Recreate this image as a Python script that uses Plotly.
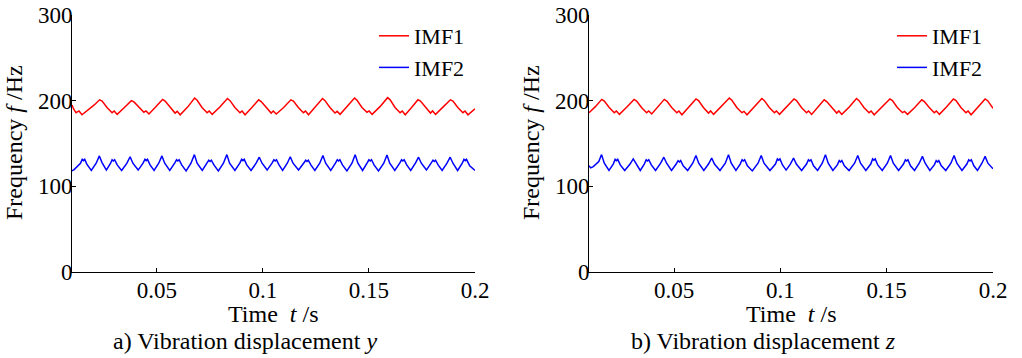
import plotly.graph_objects as go

# ---------------- data ----------------
# a) vibration displacement y
y_imf1_t = [0.0100, 0.0108, 0.0119, 0.0133, 0.0147, 0.0175, 0.0205, 0.0230,
            0.0242, 0.0265, 0.0289, 0.0299, 0.0313, 0.0347, 0.0380,
            0.0392, 0.0415, 0.0439, 0.0449, 0.0463, 0.0494, 0.0527,
            0.0539, 0.0562, 0.0586, 0.0596, 0.0610, 0.0645, 0.0678,
            0.0690, 0.0713, 0.0737, 0.0747, 0.0761, 0.0797, 0.0833,
            0.0845, 0.0868, 0.0892, 0.0902, 0.0916, 0.0948, 0.0980,
            0.0992, 0.1015, 0.1039, 0.1049, 0.1063, 0.1098, 0.1132,
            0.1144, 0.1167, 0.1191, 0.1201, 0.1215, 0.1248, 0.1281,
            0.1293, 0.1316, 0.1340, 0.1350, 0.1364, 0.1398, 0.1432,
            0.1444, 0.1467, 0.1491, 0.1501, 0.1515, 0.1552, 0.1588,
            0.1600, 0.1623, 0.1647, 0.1657, 0.1671, 0.1701, 0.1731,
            0.1743, 0.1766, 0.1790, 0.1800, 0.1814, 0.1849, 0.1884,
            0.1896, 0.1919, 0.1943, 0.1953, 0.1967, 0.2000]
y_imf1_f = [195, 190, 186, 188, 183.5, 189, 195, 201,
            199.5, 192, 186, 188, 184, 192, 200,
            198.5, 192, 186.5, 188, 184.5, 192.5, 201.5,
            199.5, 192, 185.5, 187.5, 183.5, 192.5, 203,
            200.5, 192, 186, 188, 184, 192.5, 202.5,
            200, 192, 186, 188, 183.5, 192, 201,
            199, 192, 185.5, 188, 184.5, 192, 201,
            199.5, 192, 186, 188, 183.5, 192.5, 202.5,
            200, 192, 185.5, 187.5, 184, 193, 203,
            200.5, 192, 186.5, 188, 184, 193, 203.5,
            201, 192, 186, 188, 183.5, 192, 201,
            199.5, 192, 185.5, 188, 184, 192.5, 201,
            199.5, 192, 186, 188, 183.5, 190.5]

y_imf2_t = [0.0100, 0.0110, 0.0140, 0.0148, 0.0154, 0.0160,
            0.0170, 0.0191, 0.0214, 0.0229,
            0.0241, 0.0262, 0.0282, 0.0289, 0.0295, 0.0301,
            0.0313, 0.0334, 0.0359, 0.0374,
            0.0387, 0.0412, 0.0435, 0.0444, 0.0450, 0.0456,
            0.0468, 0.0487, 0.0509, 0.0524,
            0.0537, 0.0561, 0.0584, 0.0593, 0.0599, 0.0605,
            0.0617, 0.0638, 0.0661, 0.0677,
            0.0690, 0.0714, 0.0736, 0.0745, 0.0751, 0.0757,
            0.0769, 0.0790, 0.0814, 0.0830,
            0.0843, 0.0868, 0.0891, 0.0900, 0.0906, 0.0912,
            0.0924, 0.0944, 0.0968, 0.0983,
            0.0996, 0.1020, 0.1043, 0.1052, 0.1058, 0.1064,
            0.1076, 0.1093, 0.1115, 0.1129,
            0.1142, 0.1168, 0.1192, 0.1202, 0.1208, 0.1214,
            0.1226, 0.1245, 0.1268, 0.1283,
            0.1296, 0.1320, 0.1342, 0.1351, 0.1357, 0.1363,
            0.1375, 0.1396, 0.1420, 0.1435,
            0.1448, 0.1470, 0.1491, 0.1500, 0.1506, 0.1512,
            0.1524, 0.1545, 0.1570, 0.1585,
            0.1598, 0.1622, 0.1645, 0.1654, 0.1660, 0.1666,
            0.1678, 0.1697, 0.1719, 0.1734,
            0.1747, 0.1771, 0.1793, 0.1802, 0.1808, 0.1814,
            0.1826, 0.1845, 0.1868, 0.1883,
            0.1896, 0.1918, 0.1940, 0.1948, 0.1954, 0.1960,
            0.1975, 0.2000]
y_imf2_f = [118, 119.5, 127, 131.5, 130, 131.5,
            126, 118.5, 127, 135.5,
            128, 119, 127, 131, 129.5, 131,
            125, 118.5, 127, 134.5,
            127, 119, 127, 131.5, 130, 131.5,
            125, 118.5, 127, 135.5,
            127, 118.5, 127, 131, 129.5, 131,
            125, 118, 127, 137,
            127, 118.5, 127, 130.5, 129, 130.5,
            125, 118, 127, 137,
            127, 118.5, 127, 131.5, 130, 131.5,
            125, 118.5, 127, 134,
            127, 119, 127, 131, 129.5, 131,
            125, 118.5, 127, 134.5,
            127, 119, 127, 130.5, 129, 130.5,
            125, 118.5, 127, 136,
            127, 118.5, 127, 131, 129.5, 131,
            125, 118, 127, 137,
            127, 118.5, 127, 131, 129.5, 131,
            125, 118, 127, 136.5,
            127, 118.5, 127, 131, 129.5, 131,
            125, 118.5, 127, 134,
            127, 119, 127, 130.5, 129, 130.5,
            125, 118.5, 127, 134,
            127, 118.5, 127, 131.5, 130, 131.5,
            124, 118.5]

# b) vibration displacement z
z_imf1_t = [0.0100, 0.0130, 0.0160,
            0.0172, 0.0195, 0.0219, 0.0229, 0.0243, 0.0278, 0.0312,
            0.0324, 0.0347, 0.0371, 0.0381, 0.0395, 0.0425, 0.0454,
            0.0466, 0.0489, 0.0513, 0.0523, 0.0537, 0.0570, 0.0603,
            0.0615, 0.0638, 0.0662, 0.0672, 0.0686, 0.0723, 0.0760,
            0.0772, 0.0795, 0.0819, 0.0829, 0.0843, 0.0878, 0.0913,
            0.0925, 0.0948, 0.0972, 0.0982, 0.0996, 0.1030, 0.1064,
            0.1076, 0.1099, 0.1123, 0.1133, 0.1147, 0.1177, 0.1206,
            0.1218, 0.1241, 0.1265, 0.1275, 0.1289, 0.1324, 0.1358,
            0.1370, 0.1393, 0.1417, 0.1427, 0.1441, 0.1478, 0.1515,
            0.1527, 0.1550, 0.1574, 0.1584, 0.1598, 0.1632, 0.1665,
            0.1677, 0.1700, 0.1724, 0.1734, 0.1748, 0.1781, 0.1814,
            0.1826, 0.1849, 0.1873, 0.1883, 0.1897, 0.1930, 0.1963,
            0.1975, 0.2000]
z_imf1_f = [186, 193, 201.5,
            199.5, 192, 186, 188, 184, 192.5, 201.5,
            199.5, 192, 186, 188, 184.5, 193, 201.5,
            199.5, 192, 186, 188, 183.5, 192.5, 202,
            200, 192, 185.5, 188, 184, 193, 203,
            200.5, 192, 186, 187.5, 183.5, 192.5, 202.5,
            200, 192, 186, 188, 184, 192.5, 202,
            200, 192, 186, 188, 184, 192.5, 201,
            199, 192, 185.5, 188, 184, 192.5, 202.5,
            200, 192, 186, 188, 183.5, 192.5, 202,
            200, 192, 186, 187.5, 184, 192, 201,
            199, 192, 186, 188, 184, 192.5, 202,
            200, 192, 186, 188, 183.5, 192.5, 202,
            200, 191]

z_imf2_t = [0.0100, 0.0108, 0.0120, 0.0146, 0.0159,
            0.0172, 0.0194, 0.0214, 0.0223, 0.0229, 0.0235,
            0.0247, 0.0268, 0.0293, 0.0308,
            0.0321, 0.0341, 0.0360, 0.0369, 0.0375, 0.0381,
            0.0393, 0.0413, 0.0437, 0.0452,
            0.0465, 0.0488, 0.0510, 0.0519, 0.0525, 0.0531,
            0.0543, 0.0564, 0.0588, 0.0603,
            0.0616, 0.0640, 0.0662, 0.0677,
            0.0690, 0.0716, 0.0741, 0.0756,
            0.0769, 0.0791, 0.0811, 0.0820, 0.0826, 0.0832,
            0.0845, 0.0868, 0.0895, 0.0910,
            0.0923, 0.0951, 0.0977, 0.0986, 0.0992, 0.0998,
            0.1010, 0.1027, 0.1047, 0.1062,
            0.1075, 0.1100, 0.1123, 0.1132, 0.1138, 0.1144,
            0.1156, 0.1175, 0.1197, 0.1212,
            0.1225, 0.1247, 0.1268, 0.1277, 0.1283, 0.1289,
            0.1301, 0.1323, 0.1349, 0.1364,
            0.1377, 0.1402, 0.1425, 0.1434, 0.1440, 0.1446,
            0.1458, 0.1479, 0.1503, 0.1518,
            0.1531, 0.1556, 0.1579, 0.1588, 0.1594, 0.1600,
            0.1612, 0.1631, 0.1653, 0.1668,
            0.1681, 0.1703, 0.1724, 0.1733, 0.1739, 0.1745,
            0.1757, 0.1778, 0.1802, 0.1817,
            0.1830, 0.1854, 0.1877, 0.1886, 0.1892, 0.1898,
            0.1910, 0.1927, 0.1948, 0.1963,
            0.1976, 0.2000]
z_imf2_f = [124, 121.5, 123, 129, 137,
            127, 118.5, 126, 131.5, 130, 131.5,
            125, 118.5, 126, 132,
            126, 118.5, 126, 131, 129.5, 131,
            125, 118.5, 127, 134,
            127, 118.5, 126, 130, 128.5, 130,
            124, 118.5, 127, 136,
            127, 118.5, 126, 133,
            126, 118.5, 127, 137,
            127, 118.5, 126, 131, 129.5, 131,
            124, 118, 127, 136,
            127, 118.5, 126, 132, 130.5, 132,
            125, 119, 126, 133,
            126, 118.5, 126, 131, 129.5, 131,
            124, 118.5, 127, 137,
            127, 118.5, 125, 130, 128.5, 130,
            124, 118.5, 127, 136,
            127, 118.5, 126, 132, 130.5, 132,
            125, 118.5, 127, 136,
            127, 118.5, 126, 131, 129.5, 131,
            124, 118.5, 127, 135,
            127, 118.5, 125, 130, 128.5, 130,
            124, 118.5, 127, 136,
            127, 118.5, 126, 131, 129.5, 131,
            124, 118.5, 127, 135,
            127, 120.5]

series_names = ["IMF1", "IMF2"]
x_tick_vals = [0.05, 0.1, 0.15, 0.2]
x_tick_text = ["0.05", "0.1", "0.15", "0.2"]
y_tick_vals = [0, 100, 200, 300]
y_tick_text = ["0", "100", "200", "300"]

# ---------------- styling ----------------
W, H = 1022, 358
FONT = "Liberation Serif, Times New Roman, serif"
FS_TICK = 23
FS_LEG = 22
FS_TITLE = 24
RED = "#ff0000"
BLUE = "#0000ff"

fig = go.Figure()
fig.add_trace(go.Scatter(x=y_imf1_t, y=y_imf1_f, mode="lines", name=series_names[0],
                         line=dict(color=RED, width=1.5), xaxis="x", yaxis="y", legend="legend"))
fig.add_trace(go.Scatter(x=y_imf2_t, y=y_imf2_f, mode="lines", name=series_names[1],
                         line=dict(color=BLUE, width=1.5), xaxis="x", yaxis="y", legend="legend"))
fig.add_trace(go.Scatter(x=z_imf1_t, y=z_imf1_f, mode="lines", name=series_names[0],
                         line=dict(color=RED, width=1.5), xaxis="x2", yaxis="y2", legend="legend2"))
fig.add_trace(go.Scatter(x=z_imf2_t, y=z_imf2_f, mode="lines", name=series_names[1],
                         line=dict(color=BLUE, width=1.5), xaxis="x2", yaxis="y2", legend="legend2"))

def px(x):
    return x / W

def py(y):
    return 1 - y / H

ydom = [py(272), py(15)]
common_x = dict(range=[0.01, 0.2], tickvals=x_tick_vals, ticktext=x_tick_text,
                ticks="inside", ticklen=4, tickcolor="black", tickwidth=1,
                showline=True, linecolor="black", linewidth=1, showgrid=False,
                zeroline=False, mirror=False, automargin=False,
                ticklabelstandoff=-3,
                tickfont=dict(family=FONT, size=FS_TICK, color="black"))
common_y = dict(range=[0, 300], tickvals=y_tick_vals, ticktext=y_tick_text,
                ticks="inside", ticklen=4, tickcolor="black", tickwidth=1,
                showline=True, linecolor="black", linewidth=1, showgrid=False,
                zeroline=False, mirror=False, automargin=False,
                ticklabelstandoff=-6,
                tickfont=dict(family=FONT, size=FS_TICK, color="black"))

fig.update_layout(
    template="none",
    width=W, height=H,
    margin=dict(l=0, r=0, t=0, b=0, pad=0, autoexpand=False),
    paper_bgcolor="white", plot_bgcolor="white",
    font=dict(family=FONT, size=FS_TICK, color="black"),
    xaxis=dict(domain=[px(72), px(475)], anchor="y", **common_x),
    yaxis=dict(domain=ydom, anchor="x", **common_y),
    xaxis2=dict(domain=[px(589), px(993)], anchor="y2", **common_x),
    yaxis2=dict(domain=ydom, anchor="x2", **common_y),
    legend=dict(x=px(374), y=py(15), xanchor="left", yanchor="top",
                bgcolor="rgba(0,0,0,0)", borderwidth=0, itemwidth=30,
                tracegroupgap=0, font=dict(family=FONT, size=FS_LEG, color="black")),
    legend2=dict(x=px(892), y=py(15), xanchor="left", yanchor="top",
                 bgcolor="rgba(0,0,0,0)", borderwidth=0, itemwidth=30,
                 tracegroupgap=0, font=dict(family=FONT, size=FS_LEG, color="black")),
    showlegend=True,
)

ann = []
def add_text(text, x, y, angle=0, size=FS_TITLE):
    ann.append(dict(text=text, x=px(x), y=py(y), xref="paper", yref="paper",
                    showarrow=False, xanchor="center", yanchor="middle",
                    textangle=angle, font=dict(family=FONT, size=size, color="black")))

add_text("Frequency <i>f</i> /Hz", 14, 143, -90)
add_text("Time\u00a0\u00a0<i>t</i> /s", 273, 314)
add_text("a) Vibration displacement <i>y</i>", 245, 341)
add_text("Frequency <i>f</i> /Hz", 531, 143, -90)
add_text("Time\u00a0\u00a0<i>t</i> /s", 791, 314)
add_text("b) Vibration displacement <i>z</i>", 763, 341)
fig.update_layout(annotations=ann)

fig.write_html("out.html", config={"displayModeBar": False},
               post_script="document.body.style.margin='0';")
